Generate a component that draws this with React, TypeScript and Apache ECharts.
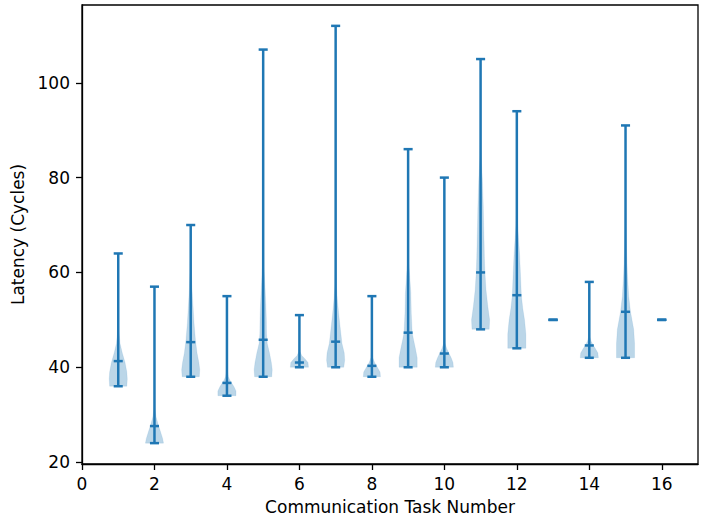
import React, { useEffect, useRef } from "react";
import * as echarts from "echarts";

// Task numbers along the x axis
const tasks = [1, 2, 3, 4, 5, 6, 7, 8, 9, 10, 11, 12, 13, 14, 15, 16];
// Extremes and centre marker of each latency distribution (cycles)
const minVals = [36, 24, 38, 34, 38, 40, 40, 38, 40, 40, 48, 44, 50, 42, 42, 50];
const maxVals = [64, 57, 70, 55, 107, 51, 112, 55, 86, 80, 105, 94, 50, 58, 91, 50];
const midVals = [41.3, 27.6, 45.3, 36.7, 45.8, 41.0, 45.4, 40.3, 47.3, 42.9, 60.0, 55.2, 50, 44.6, 51.7, 50];

// Density outline per task: [latency, relative half-width (1 = widest)]
const profile1 = [[36, 0.95], [37.5, 1], [39, 0.95], [41, 0.75], [43, 0.45], [45, 0.2], [47, 0.1], [50, 0.05], [55, 0.02], [64, 0]];
const profile2 = [[24, 1], [25, 0.9], [26.5, 0.65], [28, 0.4], [29.5, 0.18], [31, 0.07], [34, 0.025], [40, 0.008], [57, 0]];
const profile3 = [[38, 0.95], [39.5, 1], [41, 0.9], [43, 0.7], [45.8, 0.52], [49.3, 0.37], [52.8, 0.26], [56.3, 0.15], [60, 0.08], [63.3, 0.02], [66, 0.005], [70, 0]];
const profile4 = [[34, 1], [35, 1], [36, 0.75], [37, 0.4], [38, 0.15], [39.5, 0.04], [42, 0.01], [55, 0]];
const profile5 = [[38, 0.95], [39.5, 1], [41, 0.9], [43, 0.7], [45, 0.45], [47, 0.37], [50, 0.35], [53, 0.3], [57, 0.2], [61, 0.08], [65, 0.03], [70, 0.01], [80, 0], [107, 0]];
const profile6 = [[40, 1], [41, 0.95], [41.8, 0.6], [42.5, 0.25], [43.3, 0.07], [45, 0.01], [51, 0]];
const profile7 = [[40, 0.9], [41.5, 1], [43, 0.95], [45, 0.7], [48.4, 0.5], [51.4, 0.33], [54.2, 0.19], [57, 0.08], [60, 0.03], [64, 0.005], [112, 0]];
const profile8 = [[38, 0.95], [39, 0.9], [40, 0.6], [41, 0.3], [42, 0.1], [43.5, 0.02], [46, 0], [55, 0]];
const profile9 = [[40, 1], [42, 1], [44, 0.8], [45.8, 0.6], [47.3, 0.45], [51.4, 0.35], [55.7, 0.3], [59.9, 0.15], [62, 0.05], [65, 0.01], [68, 0], [86, 0]];
const profile10 = [[40, 1], [41, 0.95], [42, 0.75], [43, 0.5], [44, 0.25], [45, 0.08], [46.5, 0.02], [50, 0], [80, 0]];
const profile11 = [[48, 0.95], [50, 1], [52.8, 0.8], [56.3, 0.6], [60, 0.48], [63.3, 0.42], [66.8, 0.38], [70, 0.34], [73.8, 0.3], [79.5, 0.2], [83.7, 0.08], [87, 0.02], [90, 0], [105, 0]];
const profile12 = [[44, 1], [47, 1], [50, 0.85], [52.5, 0.65], [55.2, 0.5], [59.8, 0.4], [64, 0.3], [68.2, 0.15], [71, 0.05], [74, 0.01], [78, 0], [94, 0]];
const profile13: number[][] = [];
const profile14 = [[42, 1], [43, 0.95], [44, 0.65], [44.6, 0.45], [45.5, 0.2], [46.5, 0.05], [48, 0.01], [58, 0]];
const profile15 = [[42, 1], [45, 1], [48, 0.9], [51.7, 0.55], [55, 0.35], [60, 0.2], [65, 0.1], [70, 0.05], [74, 0.01], [78, 0], [91, 0]];
const profile16: number[][] = [];

const profiles = [
  profile1, profile2, profile3, profile4, profile5, profile6, profile7, profile8,
  profile9, profile10, profile11, profile12, profile13, profile14, profile15, profile16,
];

const yTicks = [20, 40, 60, 80, 100];
const xTicks = [0, 2, 4, 6, 8, 10, 12, 14, 16];

const BLUE = "#1f77b4";
const BODY_HALF = 0.25; // half of the violin width, in task units
const CAP_HALF = 0.125; // half length of the min / max / centre caps
const FONT = "DejaVu Sans";
const FONT_SIZE = 17;

export default function App() {
  const ref = useRef<HTMLDivElement>(null);

  useEffect(() => {
    if (!ref.current) return;
    const chart = echarts.init(ref.current, null, { renderer: "svg" });

    const bodyData = tasks.map((t, i) => [t, minVals[i], maxVals[i]]);
    const lineData = tasks.map((t, i) => [t, minVals[i], maxVals[i], midVals[i]]);

    const axisCommon = {
      axisLine: { show: true, onZero: false, lineStyle: { color: "#000", width: 1.3 } },
      axisTick: { show: true, inside: false, length: 6, lineStyle: { color: "#000", width: 1.3 } },
      splitLine: { show: false },
    };

    chart.setOption({
      animation: false,
      backgroundColor: "#fff",
      grid: {
        left: 82,
        top: 5,
        right: 4,
        bottom: 61,
        show: true,
        borderColor: "#000",
        borderWidth: 1.3,
        backgroundColor: "transparent",
      },
      xAxis: {
        type: "value",
        min: 0,
        max: 17,
        ...axisCommon,
        axisTick: { ...axisCommon.axisTick, customValues: xTicks },
        axisLabel: {
          customValues: xTicks,
          color: "#000",
          fontFamily: FONT,
          fontSize: FONT_SIZE,
          margin: 11,
        },
        name: "Communication Task Number",
        nameLocation: "middle",
        nameGap: 34,
        nameTextStyle: { color: "#000", fontFamily: FONT, fontSize: FONT_SIZE },
      },
      yAxis: {
        type: "value",
        min: 19.6,
        max: 116.4,
        ...axisCommon,
        axisTick: { ...axisCommon.axisTick, customValues: yTicks },
        axisLabel: {
          customValues: yTicks,
          color: "#000",
          fontFamily: FONT,
          fontSize: FONT_SIZE,
          margin: 12,
        },
        name: "Latency (Cycles)",
        nameLocation: "middle",
        nameGap: 52,
        nameTextStyle: { color: "#000", fontFamily: FONT, fontSize: FONT_SIZE },
      },
      series: [
        {
          type: "custom",
          name: "bodies",
          data: bodyData,
          encode: { x: 0, y: [1, 2] },
          renderItem: (params: any, api: any) => {
            const prof = profiles[params.dataIndex];
            if (!prof || prof.length === 0) return null;
            const x = api.value(0);
            const right = prof.map(([v, w]) => api.coord([x + w * BODY_HALF, v]));
            const left = prof
              .slice()
              .reverse()
              .map(([v, w]) => api.coord([x - w * BODY_HALF, v]));
            return {
              type: "polygon",
              shape: { points: right.concat(left) },
              style: { fill: "rgba(31,119,180,0.3)", stroke: "rgba(31,119,180,0.12)", lineWidth: 0.8 },
            };
          },
          z: 1,
        },
        {
          type: "custom",
          name: "extrema",
          data: lineData,
          encode: { x: 0, y: [1, 2] },
          renderItem: (params: any, api: any) => {
            const x = api.value(0);
            const lo = api.value(1);
            const hi = api.value(2);
            const mid = api.value(3);
            const style = { stroke: BLUE, lineWidth: 2.5 };
            const cap = (v: number) => {
              const a = api.coord([x - CAP_HALF, v]);
              const b = api.coord([x + CAP_HALF, v]);
              return { type: "line", shape: { x1: a[0], y1: a[1], x2: b[0], y2: b[1] }, style };
            };
            const p1 = api.coord([x, lo]);
            const p2 = api.coord([x, hi]);
            return {
              type: "group",
              children: [
                { type: "line", shape: { x1: p1[0], y1: p1[1], x2: p2[0], y2: p2[1] }, style },
                cap(lo),
                cap(hi),
                cap(mid),
              ],
            };
          },
          z: 2,
        },
      ],
    });

    return () => chart.dispose();
  }, []);

  return (
    <div
      ref={ref}
      style={{ position: "fixed", left: 0, top: 0, width: 702, height: 525, background: "#fff" }}
    />
  );
}
